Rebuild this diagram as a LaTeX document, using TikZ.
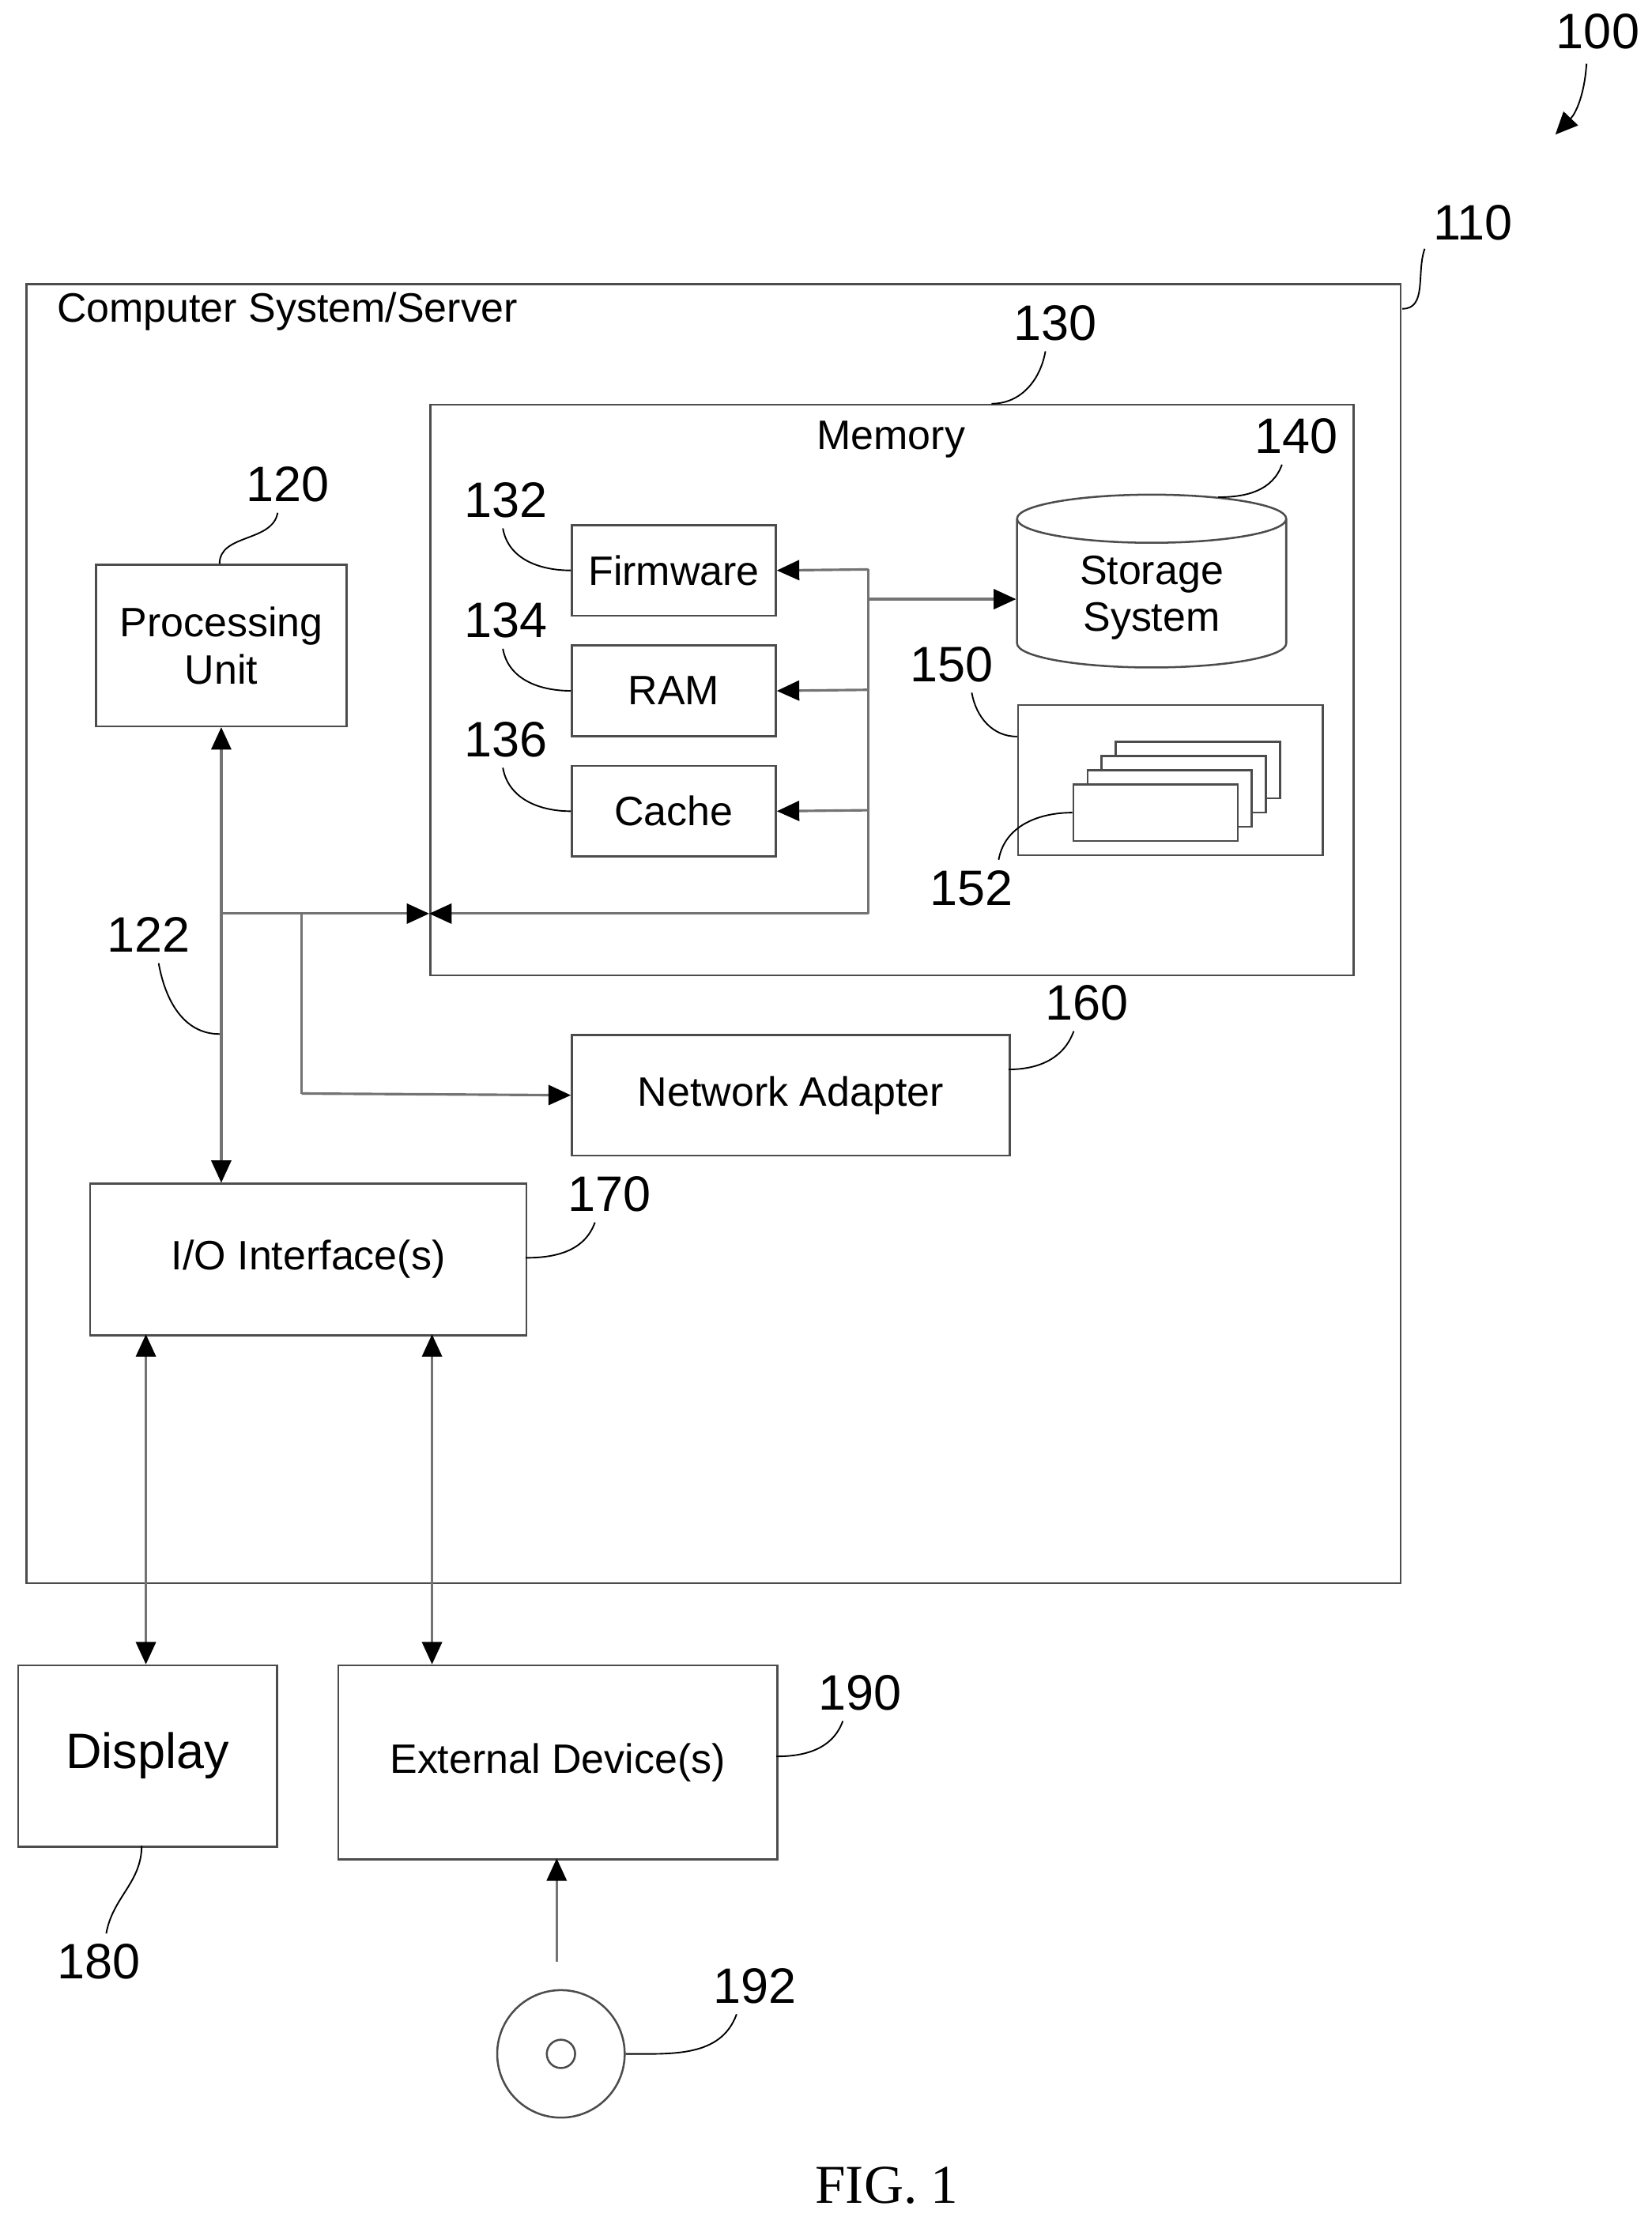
\documentclass[tikz,border=0pt]{standalone}
\usepackage{fontspec}
\setmainfont{Liberation Sans}
\newfontfamily\figfont{Liberation Serif}
\usetikzlibrary{shapes.geometric,positioning,arrows.meta}

\begin{document}
\begin{tikzpicture}[x=0.02cm,y=-0.02cm,
  font=\fontsize{16.5}{19}\selectfont,
  box/.style={rectangle,draw=black!70,line width=0.8pt,inner sep=0pt,anchor=north west},
  num/.style={font=\fontsize{20}{22}\selectfont},
  lead/.style={draw=black,line width=0.6pt},
  tip/.tip={Triangle[length=9pt,width=8pt,fill=black,color=black]},
  bus/.style={draw=black!55,line width=1pt,-tip},
  dbl/.style={draw=black!55,line width=1pt,tip-tip}]

\useasboundingbox (0,0) rectangle (1166,1568);

%Outer boxes
\node[box,minimum width=970*0.02cm,minimum height=917*0.02cm] (server) at (18,200) {};
\node[anchor=west] (serverLabel) at (34,220) {Computer System/Server};
\node[box,minimum width=652*0.02cm,minimum height=403*0.02cm] (memory) at (303,285) {};
\node (memoryLabel) at (629,310) {Memory};

%Inner blocks
\node[box,minimum width=177*0.02cm,minimum height=114*0.02cm,align=center] (cpu) at (67,398) {Processing\\Unit};
\node[box,minimum width=144*0.02cm,minimum height=64*0.02cm] (firmware) at (403,370) {Firmware};
\node[box,minimum width=144*0.02cm,minimum height=64*0.02cm] (ram) at (403,455) {RAM};
\node[box,minimum width=144*0.02cm,minimum height=64*0.02cm] (cache) at (403,540) {Cache};
\node[cylinder,shape border rotate=90,draw=black!70,line width=0.8pt,minimum width=190*0.02cm,minimum height=122*0.02cm,aspect=0.3,align=center] (storage) at (813,422) {Storage\\System};
\node[box,minimum width=215*0.02cm,minimum height=106*0.02cm] (modules) at (718,497) {};
\foreach \k in {3,2,1} {
  \node[box,fill=white,minimum width=116*0.02cm,minimum height=40*0.02cm] at (757+10*\k,553-10*\k) {};
}
\node[box,fill=white,minimum width=116*0.02cm,minimum height=40*0.02cm] (module) at (757,553) {};
\node[box,minimum width=309*0.02cm,minimum height=85*0.02cm] (network) at (403,730) {Network Adapter};
\node[box,minimum width=308*0.02cm,minimum height=107*0.02cm] (io) at (63,835) {I/O Interface(s)};
\node[box,minimum width=183*0.02cm,minimum height=128*0.02cm,font=\fontsize{20}{22}\selectfont] (display) at (12,1175) {Display};
\node[box,minimum width=310*0.02cm,minimum height=137*0.02cm] (external) at (238,1175) {External Device(s)};
\node[circle,draw=black!70,line width=0.8pt,minimum size=90*0.02cm] (disk) at (396,1450) {};
\node[circle,draw=black!70,line width=0.8pt,minimum size=20*0.02cm] (hole) at (disk.center) {};

%Bus coordinates
\coordinate (busTop) at (613,402);
\coordinate (busBot) at (613,645);
\coordinate (cpuBus) at (155,645);
\coordinate (netBranch) at (213,645);
\coordinate (netCorner) at (213,772);
\coordinate (memIn) at (303,645);
\coordinate (diskTop) at (393,1385);

%connections
\draw[draw=black!55,line width=1pt] (busTop) -- (busBot);
\draw[bus] (busTop) -- (firmware.east);
\draw[bus] (613,487) -- (ram.east);
\draw[bus] (613,572) -- (cache.east);
\draw[bus] (613,423) -- (storage.west |- 0,423);
\draw[bus] (busBot) -- (memIn);
\draw[bus] (cpuBus) -- (memIn);
\draw[draw=black!55,line width=1pt] (netBranch) -- (netCorner);
\draw[bus] (netCorner) -- (network.west);
\draw[dbl] (cpu.south) -- (io.north -| cpu.south);
\draw[dbl] (103,942) -- (103,1175);
\draw[dbl] (305,942) -- (305,1175);
\draw[bus] (diskTop) -- (393,1312);

%Reference numerals
\node[num] (n100) at (1128,22) {100};
\draw[lead,-tip] (1120,45) to[bend left=20] (1098,95);
\node[num] (n110) at (1040,157) {110};
\draw[lead] (990,218) to[out=0,in=-110] (n110.south west);
\node[num] (n130) at (745,228) {130};
\draw[lead] (700,285) to[out=0,in=-100] (738,248);
\node[num] (n120) at (203,342) {120};
\draw[lead] (155,398) to[out=90,in=-100] (196,362);
\node[num] (n132) at (357,353) {132};
\draw[lead] (firmware.west) to[out=180,in=-80] (355,373);
\node[num] (n134) at (357,438) {134};
\draw[lead] (ram.west) to[out=180,in=-80] (355,458);
\node[num] (n136) at (357,522) {136};
\draw[lead] (cache.west) to[out=180,in=-80] (355,542);
\node[num] (n140) at (915,308) {140};
\draw[lead] (860,351) to[out=0,in=-110] (905,328);
\node[num] (n150) at (672,469) {150};
\draw[lead] (718,520) to[out=180,in=-80] (686,489);
\node[num] (n152) at (686,627) {152};
\draw[lead] (module.west) to[out=180,in=80] (705,607);
\node[num] (n122) at (105,660) {122};
\draw[lead] (155,730) to[out=180,in=-80] (112,680);
\node[num] (n160) at (767,708) {160};
\draw[lead] (712,755) to[out=0,in=-110] (758,728);
\node[num] (n170) at (430,843) {170};
\draw[lead] (371,888) to[out=0,in=-110] (420,863);
\node[num] (n180) at (70,1385) {180};
\draw[lead] (100,1303) to[out=-90,in=80] (75,1365);
\node[num] (n190) at (607,1195) {190};
\draw[lead] (548,1240) to[out=0,in=-110] (595,1215);
\node[num] (n192) at (533,1402) {192};
\draw[lead] (disk.east) to[out=0,in=-110] (520,1422);

\node[font=\figfont\fontsize{22}{24}\selectfont] (fig) at (626,1543) {FIG. 1};
\end{tikzpicture}
\end{document}
